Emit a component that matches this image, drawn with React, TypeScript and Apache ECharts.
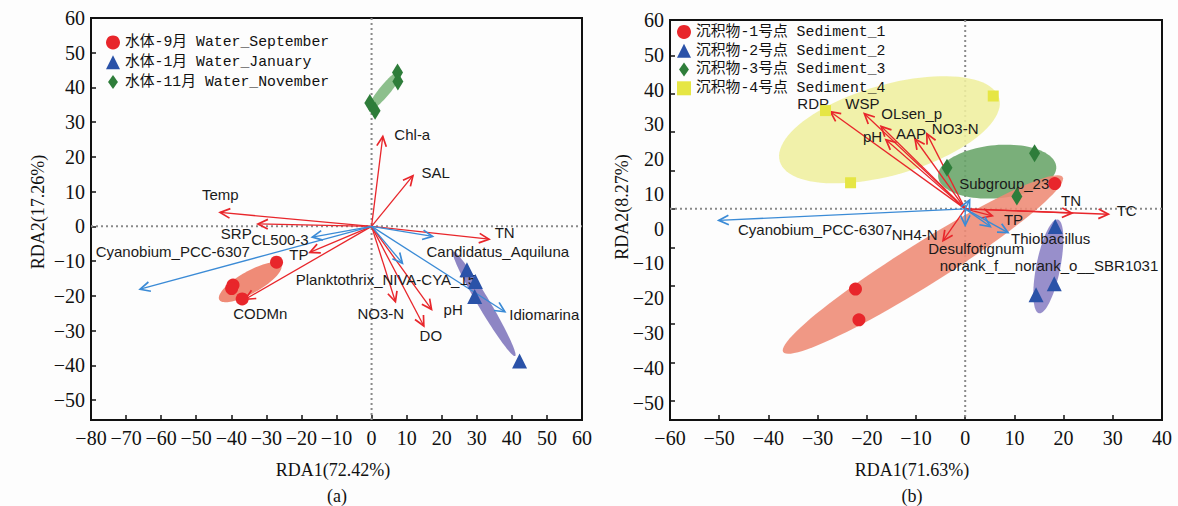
import { useEffect, useRef } from 'react';
import * as echarts from 'echarts';

// ---------------- Panel (a) : water ----------------
const waterSeptember = [[-27.1, -10.3], [-39.5, -16.9], [-39.9, -17.9], [-36.9, -20.9]];
const waterJanuary = [[27.2, -12.5], [29.6, -15.9], [29.4, -20.2], [42.2, -38.8]];
const waterNovember = [[-0.5, 35.5], [1.0, 33.3], [7.4, 44.3], [7.5, 41.7]];
// ellipse: [cx, cy, ux, uy, vx, vy] (centre + two conjugate semi-diameters, data units)
const waterEllipses = [
  [-34.6, -16.1, 8.83, 5.04, -1.54, 2.76],
  [32.1, -22.3, 8.84, -15.04, 1.47, 0.88],
  [3.85, 39.2, 4.65, 5.69, -1.21, 1.01],
];
const waterEnvNames = ['Chl-a', 'SAL', 'Temp', 'SRP', 'TP', 'CODMn', 'TN', 'NO3-N', 'pH', 'DO'];
const waterEnv = [[3.2, 25.9], [11.8, 14.6], [-43.2, 4.0], [-32.4, 0.7], [-17.6, -7.5], [-36.0, -21.0], [33.5, -3.7], [6.8, -21.7], [17.1, -23.9], [14.9, -28.7]];
const waterTaxaNames = ['CL500-3', 'Cyanobium_PCC-6307', 'Candidatus_Aquiluna', 'Planktothrix_NIVA-CYA_15', 'Idiomarina'];
const waterTaxa = [[-16.9, -3.1], [-66.0, -18.1], [17.4, -2.9], [8.8, -10.6], [38.0, -24.6]];

// ---------------- Panel (b) : sediment ----------------
const sediment1 = [[18.2, 6.6], [-22.3, -20.9], [-21.6, -28.9]];
const sediment2 = [[18.3, -4.6], [18.1, -19.5], [14.4, -22.4]];
const sediment3 = [[-3.7, 10.7], [14.1, 14.5], [10.5, 3.2]];
const sediment4 = [[-28.4, 25.6], [5.7, 29.4], [-23.3, 6.8]];
const sedimentEllipses = [
  [-15.4, 20.6, 22.3, 8.2, -2.5, 11.3],
  [6.5, 9.7, 12.0, 1.35, -0.47, 6.9],
  [-8.6, -14.5, 28.4, 22.8, -2.27, 4.63],
  [16.9, -15.0, 1.9, 12.2, -2.39, 0.61],
];
const sedEnvNames = ['RDP', 'WSP', 'OLsen_p', 'pH', 'AAP', 'NO3-N', 'TN', 'TC', 'TP', 'NH4-N'];
const sedEnv = [[-27.4, 25.3], [-20.5, 24.8], [-17.1, 21.5], [-16.1, 18.0], [-10.2, 18.2], [-7.8, 19.6], [21.7, -1.1], [29.1, -1.4], [5.5, -1.8], [-4.5, -8.3]];
const sedTaxaNames = ['Cyanobium_PCC-6307', 'Subgroup_23', 'Desulfotignum', 'norank_f__norank_o__SBR1031', 'Thiobacillus'];
const sedTaxa = [[-50.1, -3.0], [0.9, 2.3], [0.0, -4.3], [5.1, -4.6], [8.7, -6.2]];

// titles / legend labels
const axisTitles = {
  ax: 'RDA1(72.42%)', ay: 'RDA2(17.26%)', at: '(a)',
  bx: 'RDA1(71.63%)', by: 'RDA2(8.27%)', bt: '(b)',
};
const legendA = ['水体-9月 Water_September', '水体-1月 Water_January', '水体-11月 Water_November'];
const legendB = ['沉积物-1号点 Sediment_1', '沉积物-2号点 Sediment_2', '沉积物-3号点 Sediment_3', '沉积物-4号点 Sediment_4'];

// ---------------- styling / placement (not data) ----------------
const SERIF = '"Liberation Serif", "Times New Roman", serif';
const SANS = '"Liberation Sans", Arial, sans-serif';
const LEGEND_FONT = '"Liberation Mono", "Noto Sans CJK SC", monospace';
const RED = '#e8262b';
const BLUE_ARROW = '#3b8bd6';
const MARK_RED = '#e8262b';
const MARK_BLUE = '#2a52a8';
const MARK_GREEN = '#2e7d3a';
const MARK_YELLOW = '#e6e644';
const DIAMOND_ICON = 'path://M6,0L12,8.5L6,17L0,8.5Z';

const offA: Record<string, number[]> = {
  'Chl-a': [29.5, -1.6], SAL: [22.6, -3.1], Temp: [0.3, -18.4], SRP: [-21.7, 10], TP: [-11, 2.5],
  CODMn: [15, 14], TN: [15.6, -6.6], 'NO3-N': [-14.7, 11.5], pH: [21.6, 0], DO: [7, 9],
  'CL500-3': [-32.4, 2], 'Cyanobium_PCC-6307': [32.7, -37.6], Candidatus_Aquiluna: [65.2, 15.1],
  'Planktothrix_NIVA-CYA_15': [-16.5, 16], Idiomarina: [39.4, 3.1],
};
const offB: Record<string, number[]> = {
  RDP: [-17.2, -8.5], WSP: [-1.9, -10.5], OLsen_p: [30.6, -12.4], pH: [-13.5, -3.2], AAP: [-4, -6],
  'NO3-N': [28.3, -5.4], TN: [-1, -12.5], TC: [18.3, -4], TP: [21.2, 3.4], 'NH4-N': [-28.4, -5.9],
  'Cyanobium_PCC-6307': [96.4, 9.5], Subgroup_23: [34.6, -16.9], Desulfotignum: [11, 22.8],
  norank_f__norank_o__SBR1031: [58.7, 39.3], Thiobacillus: [42.7, 6.2],
};

function tickFmt(v: number) {
  const r = Math.round(v);
  if (Math.abs(v - r) > 1e-6 || r % 10 !== 0) return '';
  return String(r).replace('-', '\u2212');
}

function ellipseSeries(xi: number, yi: number, rows: number[][], colors: string[], opacity: number) {
  return {
    type: 'custom', xAxisIndex: xi, yAxisIndex: yi, z: 2, silent: true,
    data: rows,
    renderItem: (params: any, api: any) => {
      const cx = api.value(0), cy = api.value(1), ux = api.value(2), uy = api.value(3), vx = api.value(4), vy = api.value(5);
      const pts: number[][] = [];
      for (let i = 0; i < 96; i++) {
        const t = (i / 96) * Math.PI * 2;
        const c = Math.cos(t), s = Math.sin(t);
        pts.push(api.coord([cx + ux * c + vx * s, cy + uy * c + vy * s]));
      }
      return { type: 'polygon', shape: { points: pts }, style: { fill: colors[params.dataIndex], opacity } };
    },
  };
}

function arrowSeries(xi: number, yi: number, vals: number[][], names: string[], color: string, offs: Record<string, number[]>) {
  return {
    type: 'custom', xAxisIndex: xi, yAxisIndex: yi, z: 3, silent: true,
    data: vals,
    renderItem: (params: any, api: any) => {
      const name = names[params.dataIndex];
      const o = api.coord([0, 0]);
      const t = api.coord([api.value(0), api.value(1)]);
      const ang = Math.atan2(t[1] - o[1], t[0] - o[0]);
      const L = 11, sp = 0.45;
      const p1 = [t[0] - L * Math.cos(ang - sp), t[1] - L * Math.sin(ang - sp)];
      const p2 = [t[0] - L * Math.cos(ang + sp), t[1] - L * Math.sin(ang + sp)];
      const off = offs[name] || [0, 0];
      return {
        type: 'group',
        children: [
          { type: 'line', shape: { x1: o[0], y1: o[1], x2: t[0], y2: t[1] }, style: { stroke: color, lineWidth: 1.3 } },
          { type: 'polyline', shape: { points: [p1, t, p2] }, style: { stroke: color, fill: 'none', lineWidth: 1.7 } },
          {
            type: 'text', x: t[0] + off[0], y: t[1] + off[1], z2: 10,
            style: { text: name, fill: '#1a1a1a', font: `15px ${SANS}`, align: 'center', verticalAlign: 'middle' },
          },
        ],
      };
    },
  };
}

function zeroLines(xi: number, yi: number) {
  return {
    type: 'custom', xAxisIndex: xi, yAxisIndex: yi, z: 1, silent: true,
    data: [[0, 0]],
    renderItem: (params: any, api: any) => {
      const cs = params.coordSys;
      const p = api.coord([0, 0]);
      const st = { stroke: '#8a8a8a', lineWidth: 2, lineDash: [2, 3] };
      return {
        type: 'group',
        children: [
          { type: 'line', shape: { x1: p[0], y1: cs.y, x2: p[0], y2: cs.y + cs.height }, style: st },
          { type: 'line', shape: { x1: cs.x, y1: p[1], x2: cs.x + cs.width, y2: p[1] }, style: st },
        ],
      };
    },
  };
}

function scatter(name: string, xi: number, yi: number, data: number[][], symbol: string, size: any, color: string) {
  return {
    type: 'scatter', name, xAxisIndex: xi, yAxisIndex: yi, z: 5, data, symbol, symbolSize: size,
    itemStyle: { color, opacity: 1 }, silent: true,
  };
}

const axisLine = { show: true, onZero: false, lineStyle: { color: '#111', width: 2 } };
const axisTick = { show: true, inside: true, length: 5, lineStyle: { color: '#111', width: 1.5 } };
const axisLabel = { show: true, fontFamily: SERIF, fontSize: 20, color: '#111', formatter: tickFmt };

export default function App() {
  const ref = useRef<HTMLDivElement>(null);
  useEffect(() => {
    if (!ref.current) return;
    const chart = echarts.init(ref.current, undefined, { renderer: 'svg' });
    const legendText = { fontFamily: LEGEND_FONT, fontSize: 14.8, color: '#111' };
    chart.setOption({
      animation: false,
      backgroundColor: '#fdfdfd',
      grid: [
        { left: 91, top: 18, width: 491, height: 402, show: true, borderColor: '#111', borderWidth: 2, backgroundColor: 'transparent', outerBoundsMode: 'none', containLabel: false },
        { left: 670, top: 20, width: 492, height: 400, show: true, borderColor: '#111', borderWidth: 2, backgroundColor: 'transparent', outerBoundsMode: 'none', containLabel: false },
      ],
      xAxis: [
        { type: 'value', gridIndex: 0, min: -80, max: 60, interval: 10, axisLine, axisTick, axisLabel: { ...axisLabel, margin: 8 }, splitLine: { show: false } },
        { type: 'value', gridIndex: 1, min: -60, max: 40, interval: 10, axisLine, axisTick, axisLabel: { ...axisLabel, margin: 8 }, splitLine: { show: false } },
      ],
      yAxis: [
        { type: 'value', gridIndex: 0, min: -55.76, max: 60, minInterval: 10, maxInterval: 10, splitNumber: 12, position: 'left', axisLine, axisTick, axisLabel: { ...axisLabel, margin: 6 }, splitLine: { show: false } },
        { type: 'value', gridIndex: 1, min: -55, max: 49.2, minInterval: 10, maxInterval: 10, splitNumber: 10, position: 'left', axisLine, axisTick, axisLabel: { show: false }, splitLine: { show: false } },
        { type: 'value', gridIndex: 1, min: -55, max: 60, minInterval: 10, maxInterval: 10, splitNumber: 11, position: 'left', axisLine: { show: false, onZero: false }, axisTick: { show: false }, axisLabel: { ...axisLabel, margin: 6 }, splitLine: { show: false } },
      ],
      legend: [
        {
          left: 106, top: 35, orient: 'vertical', itemWidth: 14, itemHeight: 14, itemGap: 5, padding: 0, selectedMode: false,
          textStyle: legendText, symbolKeepAspect: true,
          data: [
            { name: legendA[0], icon: 'circle' },
            { name: legendA[1], icon: 'triangle' },
            { name: legendA[2], icon: DIAMOND_ICON },
          ],
        },
        {
          left: 677, top: 24.5, orient: 'vertical', itemWidth: 14, itemHeight: 14, itemGap: 4, padding: 0, selectedMode: false,
          textStyle: legendText, symbolKeepAspect: true,
          data: [
            { name: legendB[0], icon: 'circle' },
            { name: legendB[1], icon: 'triangle' },
            { name: legendB[2], icon: DIAMOND_ICON },
            { name: legendB[3], icon: 'rect' },
          ],
        },
      ],
      graphic: [
        { type: 'text', x: 333, y: 470, style: { text: axisTitles.ax, font: `18px ${SERIF}`, fill: '#111', align: 'center', verticalAlign: 'middle' } },
        { type: 'text', x: 337, y: 496, style: { text: axisTitles.at, font: `18px ${SERIF}`, fill: '#111', align: 'center', verticalAlign: 'middle' } },
        { type: 'text', x: 38, y: 212, rotation: Math.PI / 2, style: { text: axisTitles.ay, font: `18px ${SERIF}`, fill: '#111', align: 'center', verticalAlign: 'middle' } },
        { type: 'text', x: 912, y: 470, style: { text: axisTitles.bx, font: `18px ${SERIF}`, fill: '#111', align: 'center', verticalAlign: 'middle' } },
        { type: 'text', x: 912, y: 496, style: { text: axisTitles.bt, font: `18px ${SERIF}`, fill: '#111', align: 'center', verticalAlign: 'middle' } },
        { type: 'text', x: 622, y: 207, rotation: Math.PI / 2, style: { text: axisTitles.by, font: `18px ${SERIF}`, fill: '#111', align: 'center', verticalAlign: 'middle' } },
      ],
      series: [
        zeroLines(0, 0),
        zeroLines(1, 1),
        ellipseSeries(0, 0, waterEllipses, ['#ef8b77', '#8e86c4', '#8cbf8c'], 1),
        ellipseSeries(1, 1, sedimentEllipses, ['#efef9e', '#68a468', '#ee8a74', '#8a80c4'], 0.88),
        arrowSeries(0, 0, waterEnv, waterEnvNames, RED, offA),
        arrowSeries(0, 0, waterTaxa, waterTaxaNames, BLUE_ARROW, offA),
        arrowSeries(1, 1, sedEnv, sedEnvNames, RED, offB),
        arrowSeries(1, 1, sedTaxa, sedTaxaNames, BLUE_ARROW, offB),
        scatter(legendA[0], 0, 0, waterSeptember, 'circle', 13, MARK_RED),
        scatter(legendA[1], 0, 0, waterJanuary, 'triangle', 15, MARK_BLUE),
        scatter(legendA[2], 0, 0, waterNovember, 'diamond', [11, 18], MARK_GREEN),
        scatter(legendB[0], 1, 1, sediment1, 'circle', 13, MARK_RED),
        scatter(legendB[1], 1, 1, sediment2, 'triangle', 15, MARK_BLUE),
        scatter(legendB[2], 1, 1, sediment3, 'diamond', [11, 18], MARK_GREEN),
        scatter(legendB[3], 1, 1, sediment4, 'rect', 11, MARK_YELLOW),
      ],
    });
    return () => chart.dispose();
  }, []);
  return <div ref={ref} style={{ position: 'fixed', left: 0, top: 0, width: 1178, height: 506 }} />;
}
